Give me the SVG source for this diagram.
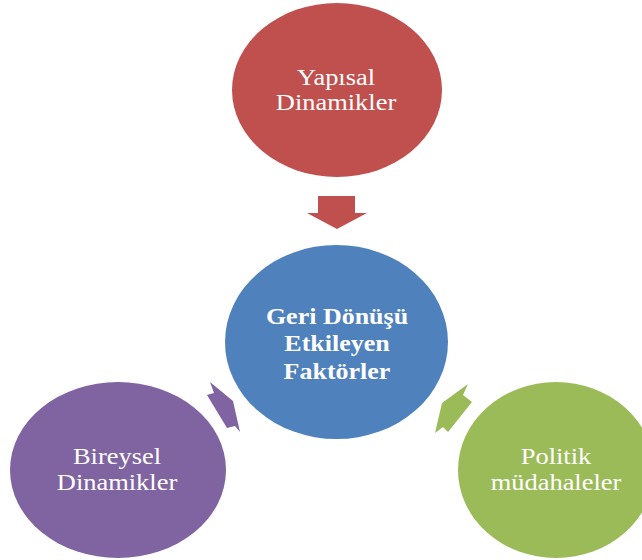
<svg xmlns="http://www.w3.org/2000/svg" width="642" height="560" viewBox="0 0 642 560">
<style>
.lbl{font-family:"Liberation Serif","Times New Roman",serif;font-size:23px;fill:#ffffff;text-anchor:middle}
.b{font-weight:bold}
</style>
<rect width="642" height="560" fill="#ffffff"/>
<g id="connectors">
<polygon id="arrow-red" fill="#C0504D" points="318,196 355,196 355,213 367,213 337,229 307,213 318,213"/>
<polygon id="arrow-purple" fill="#8064A2" points="210,382 233,401 240,432 235,426 227,428 207,395 214,393"/>
<polygon id="arrow-green" fill="#9BBB59" points="468,384 463,395 472,402 448,432 443,427 435,433 442,403"/>
</g>
<g id="node-yapisal">
<ellipse cx="337" cy="90" rx="105" ry="87" fill="#C0504D"/>
<text class="lbl" transform="translate(336 0) scale(1.15 1)"><tspan x="0" y="85">Yapısal</tspan><tspan x="0" y="110.5">Dinamikler</tspan></text>
</g>
<g id="node-geri">
<ellipse cx="336.5" cy="342" rx="111.5" ry="97" fill="#4F81BD"/>
<text class="lbl b" transform="translate(337 0) scale(1.13 1)"><tspan x="0" y="324">Geri Dönüşü</tspan><tspan x="0" y="351">Etkileyen</tspan><tspan x="0" y="379">Faktörler</tspan></text>
</g>
<g id="node-bireysel">
<ellipse cx="118" cy="470" rx="108" ry="88" fill="#8064A2"/>
<text class="lbl" transform="translate(117 0) scale(1.15 1)"><tspan x="0" y="464">Bireysel</tspan><tspan x="0" y="490.5">Dinamikler</tspan></text>
</g>
<g id="node-politik">
<ellipse cx="556" cy="470" rx="98" ry="88" fill="#9BBB59"/>
<text class="lbl" transform="translate(556 0) scale(1.15 1)"><tspan x="0" y="464">Politik</tspan><tspan x="0" y="490">müdahaleler</tspan></text>
</g>
</svg>
